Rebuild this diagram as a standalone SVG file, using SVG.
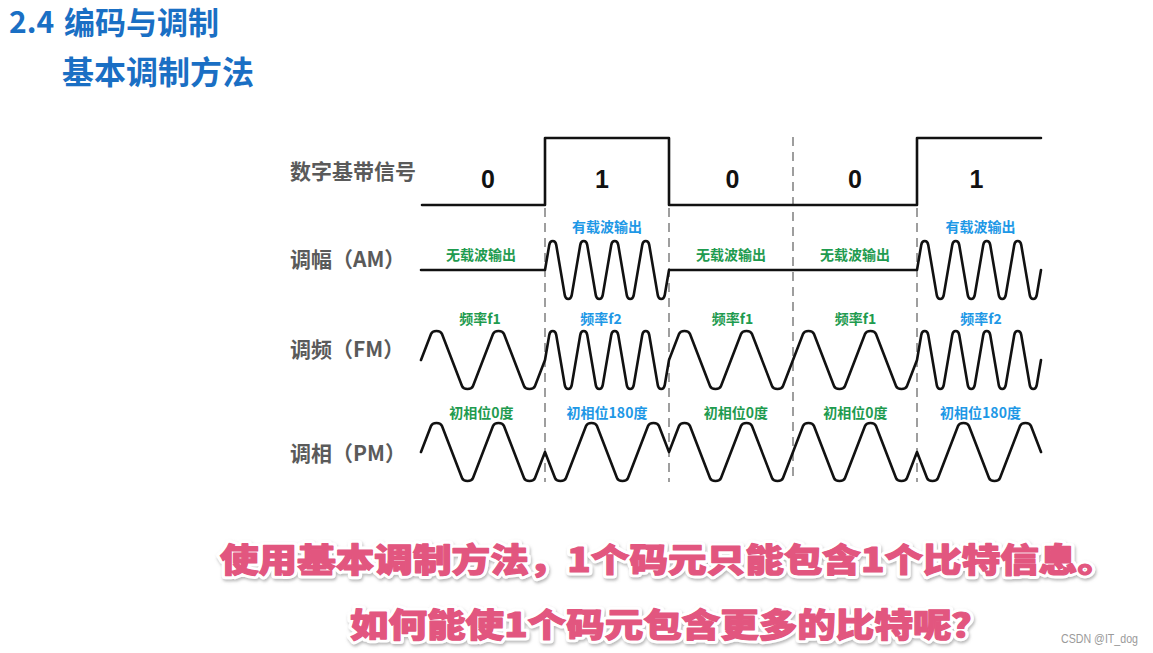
<svg xmlns="http://www.w3.org/2000/svg" width="1153" height="653" viewBox="0 0 1153 653">
<style>
.title{font-family:"Noto Sans CJK SC","Liberation Sans",sans-serif;font-weight:bold;fill:#1a6fc4}
.lab{font-family:"Noto Sans CJK SC","Liberation Sans",sans-serif;font-weight:bold;font-size:21px;fill:#5a5a5a}
.bit{font-family:"Liberation Sans","Noto Sans CJK SC",sans-serif;font-weight:bold;font-size:25px;fill:#111;text-anchor:middle}
.g{font-family:"Noto Sans CJK SC","Liberation Sans",sans-serif;font-weight:bold;font-size:14px;fill:#1f9b4f;text-anchor:middle}
.b{font-family:"Noto Sans CJK SC","Liberation Sans",sans-serif;font-weight:bold;font-size:14px;fill:#1e98e6;text-anchor:middle}
.wave{fill:none;stroke:#111;stroke-width:2.6;stroke-linejoin:round;stroke-linecap:round}
.dash{stroke:#9e9e9e;stroke-width:2;stroke-dasharray:9 6;fill:none}
.pinkbg{font-family:"Noto Sans CJK SC","Liberation Sans",sans-serif;font-weight:900;font-size:33px;fill:#fff;stroke:#fff;stroke-width:7;stroke-linejoin:round}
.pink{font-family:"Noto Sans CJK SC","Liberation Sans",sans-serif;font-weight:900;font-size:33px;fill:#e2567f;stroke:#e2567f;stroke-width:1.2;stroke-linejoin:round}
.wm{font-family:"Liberation Sans","Noto Sans CJK SC",sans-serif;font-size:12px;fill:#9a9a9a}
</style>
<defs>
<filter id="sh" x="-5%" y="-20%" width="110%" height="150%">
<feDropShadow dx="1" dy="2" stdDeviation="1.5" flood-color="#888" flood-opacity="0.6"/>
</filter>
</defs>
<rect width="1153" height="653" fill="#fff"/>

<g id="title">
<text class="title" x="9" y="33" font-size="30">2.4</text>
<text class="title" x="64" y="34" font-size="31">编码与调制</text>
<text class="title" x="62" y="84" font-size="32">基本调制方法</text>
</g>

<g id="connectors">
<line class="dash" x1="545" y1="208" x2="545" y2="482"/>
<line class="dash" x1="669" y1="208" x2="669" y2="482"/>
<line class="dash" x1="793" y1="137" x2="793" y2="482"/>
<line class="dash" x1="917" y1="208" x2="917" y2="482"/>
</g>

<g id="row-digital">
<text class="lab" x="290" y="179">数字基带信号</text>
<path class="wave" d="M422,205 H545 V138 H669 V205 H917 V138 H1041"/>
<text class="bit" x="488" y="188">0</text>
<text class="bit" x="602" y="188">1</text>
<text class="bit" x="732.5" y="188">0</text>
<text class="bit" x="855" y="188">0</text>
<text class="bit" x="976.5" y="188">1</text>
</g>

<g id="row-am">
<text class="lab" x="290" y="267">调幅（AM）</text>
<text class="g" x="481" y="260">无载波输出</text>
<text class="b" x="607" y="232">有载波输出</text>
<text class="g" x="731" y="260">无载波输出</text>
<text class="g" x="855" y="260">无载波输出</text>
<text class="b" x="980.5" y="232">有载波输出</text>
<path class="wave" d="M421,270 H545
l4.25,-25 c0.9,-5.33 6.1,-5.33 7,0 l8.5,50 c0.9,5.33 6.1,5.33 7,0 l8.5,-50 c0.9,-5.33 6.1,-5.33 7,0 l8.5,50 c0.9,5.33 6.1,5.33 7,0 l8.5,-50 c0.9,-5.33 6.1,-5.33 7,0 l8.5,50 c0.9,5.33 6.1,5.33 7,0 l8.5,-50 c0.9,-5.33 6.1,-5.33 7,0 l8.5,50 c0.9,5.33 6.1,5.33 7,0 l4.25,-25
H917
l4.25,-25 c0.9,-5.33 6.1,-5.33 7,0 l8.5,50 c0.9,5.33 6.1,5.33 7,0 l8.5,-50 c0.9,-5.33 6.1,-5.33 7,0 l8.5,50 c0.9,5.33 6.1,5.33 7,0 l8.5,-50 c0.9,-5.33 6.1,-5.33 7,0 l8.5,50 c0.9,5.33 6.1,5.33 7,0 l8.5,-50 c0.9,-5.33 6.1,-5.33 7,0 l8.5,50 c0.9,5.33 6.1,5.33 7,0 l4.25,-25"/>
</g>

<g id="row-fm">
<text class="lab" x="290" y="357">调频（FM）</text>
<text class="g" x="480" y="323.5">频率f1</text>
<text class="b" x="601" y="323.5">频率f2</text>
<text class="g" x="732.5" y="323.5">频率f1</text>
<text class="g" x="855.5" y="323.5">频率f1</text>
<text class="b" x="981" y="323.5">频率f2</text>
<path class="wave" d="M421,360
l10,-26 c1.54,-4 9.46,-4 11,0 l20,52 c1.54,4 9.46,4 11,0 l20,-52 c1.54,-4 9.46,-4 11,0 l20,52 c1.54,4 9.46,4 11,0 l10,-26
l4.25,-25 c0.9,-5.33 6.1,-5.33 7,0 l8.5,50 c0.9,5.33 6.1,5.33 7,0 l8.5,-50 c0.9,-5.33 6.1,-5.33 7,0 l8.5,50 c0.9,5.33 6.1,5.33 7,0 l8.5,-50 c0.9,-5.33 6.1,-5.33 7,0 l8.5,50 c0.9,5.33 6.1,5.33 7,0 l8.5,-50 c0.9,-5.33 6.1,-5.33 7,0 l8.5,50 c0.9,5.33 6.1,5.33 7,0 l4.25,-25
l10,-26 c1.54,-4 9.46,-4 11,0 l20,52 c1.54,4 9.46,4 11,0 l20,-52 c1.54,-4 9.46,-4 11,0 l20,52 c1.54,4 9.46,4 11,0 l10,-26
l10,-26 c1.54,-4 9.46,-4 11,0 l20,52 c1.54,4 9.46,4 11,0 l20,-52 c1.54,-4 9.46,-4 11,0 l20,52 c1.54,4 9.46,4 11,0 l10,-26
l4.25,-25 c0.9,-5.33 6.1,-5.33 7,0 l8.5,50 c0.9,5.33 6.1,5.33 7,0 l8.5,-50 c0.9,-5.33 6.1,-5.33 7,0 l8.5,50 c0.9,5.33 6.1,5.33 7,0 l8.5,-50 c0.9,-5.33 6.1,-5.33 7,0 l8.5,50 c0.9,5.33 6.1,5.33 7,0 l8.5,-50 c0.9,-5.33 6.1,-5.33 7,0 l8.5,50 c0.9,5.33 6.1,5.33 7,0 l4.25,-25"/>
</g>

<g id="row-pm">
<text class="lab" x="290" y="461">调相（PM）</text>
<text class="g" x="481.5" y="418">初相位0度</text>
<text class="b" x="607" y="418">初相位180度</text>
<text class="g" x="736" y="418">初相位0度</text>
<text class="g" x="855.5" y="418">初相位0度</text>
<text class="b" x="980.5" y="418">初相位180度</text>
<path class="wave" d="M421,452
l10,-26 c1.54,-4 9.46,-4 11,0 l20,52 c1.54,4 9.46,4 11,0 l20,-52 c1.54,-4 9.46,-4 11,0 l20,52 c1.54,4 9.46,4 11,0 l10,-26
l10,26 c1.54,4 9.46,4 11,0 l20,-52 c1.54,-4 9.46,-4 11,0 l20,52 c1.54,4 9.46,4 11,0 l20,-52 c1.54,-4 9.46,-4 11,0 l10,26
l10,-26 c1.54,-4 9.46,-4 11,0 l20,52 c1.54,4 9.46,4 11,0 l20,-52 c1.54,-4 9.46,-4 11,0 l20,52 c1.54,4 9.46,4 11,0 l10,-26
l10,-26 c1.54,-4 9.46,-4 11,0 l20,52 c1.54,4 9.46,4 11,0 l20,-52 c1.54,-4 9.46,-4 11,0 l20,52 c1.54,4 9.46,4 11,0 l10,-26
l10,26 c1.54,4 9.46,4 11,0 l20,-52 c1.54,-4 9.46,-4 11,0 l20,52 c1.54,4 9.46,4 11,0 l20,-52 c1.54,-4 9.46,-4 11,0 l10,26"/>
</g>

<g id="caption">
<g filter="url(#sh)">
<text class="pinkbg" x="220" y="572" textLength="896" lengthAdjust="spacingAndGlyphs">使用基本调制方法，1个码元只能包含1个比特信息。</text>
<text class="pinkbg" x="350" y="637" textLength="640" lengthAdjust="spacingAndGlyphs">如何能使1个码元包含更多的比特呢？</text>
</g>
<text class="pink" x="220" y="572" textLength="896" lengthAdjust="spacingAndGlyphs">使用基本调制方法，1个码元只能包含1个比特信息。</text>
<text class="pink" x="350" y="637" textLength="640" lengthAdjust="spacingAndGlyphs">如何能使1个码元包含更多的比特呢？</text>
</g>

<g id="watermark">
<text class="wm" x="1061" y="643" textLength="77" lengthAdjust="spacingAndGlyphs">CSDN @IT_dog</text>
</g>
</svg>
